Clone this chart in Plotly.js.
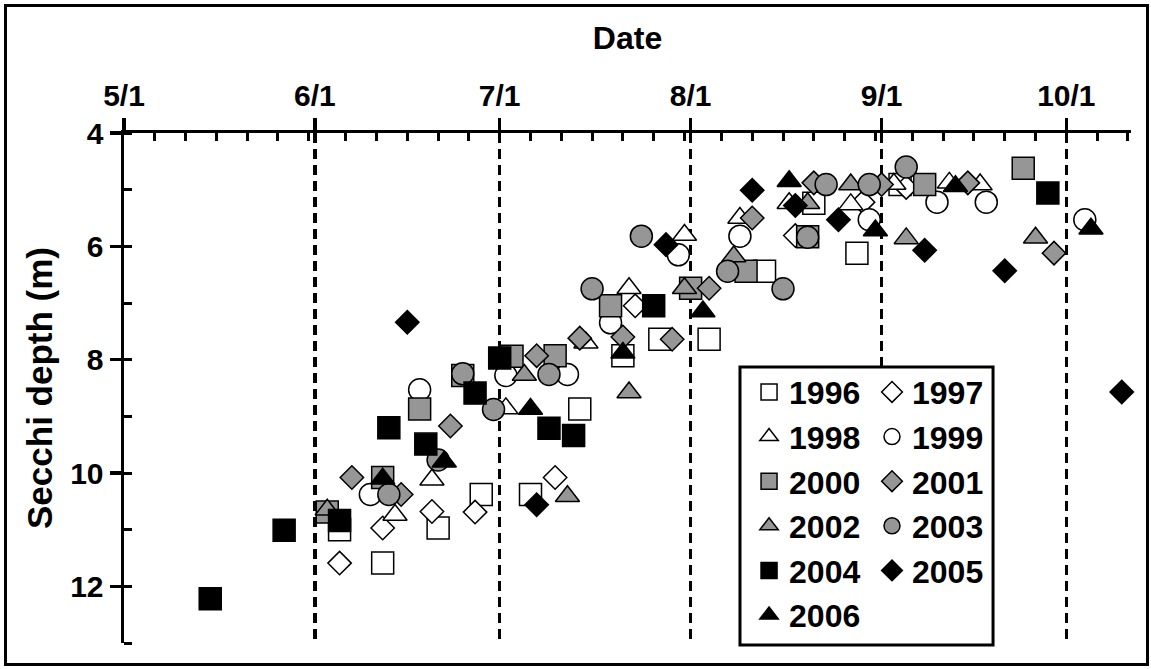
<!DOCTYPE html>
<html>
<head>
<meta charset="utf-8">
<script src="https://cdn.plot.ly/plotly-3.0.1.min.js"></script>
<style>
  html, body { margin:0; padding:0; background:#fff; }
  #wrap { position:relative; width:1151px; height:669px; }
  #chart { position:absolute; left:0; top:0; width:1151px; height:669px; }
  #frame { position:absolute; left:4px; top:4px; width:1145px; height:662px; box-sizing:border-box; border:3px solid #000; pointer-events:none; }
</style>
</head>
<body>
<div id="wrap"><div id="chart"></div><div id="frame"></div></div>
<script>
// ---- data (month/day, Secchi depth in m) ----
const years = ["1996","1997","1998","1999","2000","2001","2002","2003","2004","2005","2006"];

const d1996 = ["6/5","6/12","6/21","6/28","7/6","7/14","7/21","7/27","8/4","8/13","8/21","8/28","9/4"];
const v1996 = [11.0,11.59,10.97,10.38,10.38,8.87,7.93,7.64,7.64,6.44,5.24,6.12,4.91];

const d1997 = ["6/5","6/12","6/20","6/27","7/10","7/23","8/18","8/29","9/5"];
const v1997 = [11.59,10.97,10.68,10.69,10.08,7.05,5.81,5.22,4.96];

const d1998 = ["6/14","6/20","7/2","7/15","7/22","7/31","8/9","8/17","8/27","9/3","9/12","9/17"];
const v1998 = [10.74,10.12,8.86,7.7,6.74,5.8,5.5,5.24,5.26,4.9,4.88,4.91];

const d1999 = ["6/10","6/18","7/2","7/12","7/19","7/30","8/9","8/30","9/10","9/18","10/4"];
const v1999 = [10.38,8.53,8.28,8.26,7.35,6.15,5.82,5.53,5.22,5.22,5.53];

const d2000 = ["6/3","6/12","6/18","6/25","7/3","7/10","7/19","8/1","8/10","8/20","9/8","9/24"];
const v2000 = [10.69,10.08,8.87,8.28,7.94,7.93,7.05,6.74,6.44,5.83,4.91,4.62];

const d2001 = ["6/7","6/15","6/23","7/7","7/14","7/21","7/29","8/4","8/11","8/21","9/1","9/15","9/29"];
const v2001 = [10.08,10.38,9.17,7.93,7.62,7.6,7.64,6.74,5.5,4.88,4.91,4.88,6.12];

const d2002 = ["6/3","7/5","7/12","7/22","7/31","8/8","8/20","8/27","9/5","9/26"];
const v2002 = [10.65,8.27,10.41,8.58,6.74,6.18,5.24,4.91,5.86,5.85];

const d2003 = ["6/13","6/21","6/25","6/30","7/9","7/16","7/24","8/7","8/16","8/20","8/23","8/30","9/5"];
const v2003 = [10.38,9.77,8.25,8.88,8.26,6.75,5.82,6.44,6.75,5.84,4.91,4.91,4.6];

const d2004 = ["5/15","5/27","6/5","6/13","6/19","6/27","7/1","7/9","7/13","7/26","9/28"];
const v2004 = [12.22,11.01,10.84,9.2,9.49,8.59,7.97,9.21,9.34,7.05,5.06];

const d2005 = ["6/16","7/7","7/28","8/11","8/18","8/25","9/8","9/21","10/10"];
const v2005 = [7.34,10.56,5.97,5.01,5.28,5.53,6.07,6.43,8.57];

const d2006 = ["6/12","6/22","7/6","7/21","8/3","8/17","8/31","9/13","10/5"];
const v2006 = [10.1,9.8,8.87,7.88,7.15,4.85,5.72,4.94,5.69];

const majorTicks = ["5/1","6/1","7/1","8/1","9/1","10/1"];
const minorTicks = ["5/6","5/11","5/16","5/21","5/26","5/31","6/6","6/11","6/16","6/21","6/26",
  "7/6","7/11","7/16","7/21","7/26","7/31","8/6","8/11","8/16","8/21","8/26","8/31",
  "9/6","9/11","9/16","9/21","9/26","10/6","10/11"];
const xStart = "5/1";
const xEnd = "2001-10-11 12:00";
const yRange = [13, 4];

// ---- styles ----
const GRAY = "#969696";
const styleOf = {
  "1996": {symbol:"square", fill:"#ffffff", size:22},
  "1997": {symbol:"diamond", fill:"#ffffff", size:18},
  "1998": {symbol:"triangle-up", fill:"#ffffff", size:21},
  "1999": {symbol:"circle", fill:"#ffffff", size:22},
  "2000": {symbol:"square", fill:GRAY, size:22},
  "2001": {symbol:"diamond", fill:GRAY, size:18},
  "2002": {symbol:"triangle-up", fill:GRAY, size:21},
  "2003": {symbol:"circle", fill:GRAY, size:22},
  "2004": {symbol:"square", fill:"#000000", size:22},
  "2005": {symbol:"diamond", fill:"#000000", size:18},
  "2006": {symbol:"triangle-up", fill:"#000000", size:21}
};
const dataOf = {
  "1996":[d1996,v1996],"1997":[d1997,v1997],"1998":[d1998,v1998],"1999":[d1999,v1999],
  "2000":[d2000,v2000],"2001":[d2001,v2001],"2002":[d2002,v2002],"2003":[d2003,v2003],
  "2004":[d2004,v2004],"2005":[d2005,v2005],"2006":[d2006,v2006]
};

function toDate(md) {
  const p = md.split("/");
  const m = ("0" + p[0]).slice(-2), d = ("0" + p[1]).slice(-2);
  return "2001-" + m + "-" + d;
}

const FONT = "Liberation Sans, Arial, Helvetica, sans-serif";

const traces = years.map(function(y, i) {
  const s = styleOf[y];
  return {
    type: "scatter",
    mode: "markers",
    name: y,
    x: dataOf[y][0].map(toDate),
    y: dataOf[y][1],
    legend: (i % 2 === 0) ? "legend" : "legend2",
    marker: {symbol: s.symbol, size: s.size, color: s.fill, line: {color: "#000", width: 1.5}},
    cliponaxis: false,
    hoverinfo: "x+y+name"
  };
});

const legendBase = {
  xanchor: "left", yanchor: "top",
  bgcolor: "rgba(0,0,0,0)", borderwidth: 0,
  font: {family: FONT, size: 32, weight: "bold", color: "#000"},
  itemwidth: 30, tracegroupgap: 0, traceorder: "normal"
};

const layout = {
  width: 1151, height: 669,
  margin: {l: 124, r: 20, t: 133, b: 26, pad: 0},
  paper_bgcolor: "#fff", plot_bgcolor: "#fff",
  showlegend: true,
  font: {family: FONT, color: "#000"},
  xaxis: {
    type: "date", side: "top",
    range: [toDate(xStart), xEnd],
    tickmode: "array", tickvals: majorTicks.map(toDate), ticktext: majorTicks,
    ticks: "outside", ticklen: 12, tickwidth: 3.5, tickcolor: "#000",
    tickfont: {family: FONT, size: 30, weight: "bold", color: "#000"},
    showline: true, linecolor: "#000", linewidth: 3.5,
    showgrid: true, gridcolor: "#000", gridwidth: 3.5, griddash: "10px,6px",
    zeroline: false,
    minor: {tickmode: "array", tickvals: minorTicks.map(toDate), ticks: "inside", ticklen: 8, tickwidth: 3, tickcolor: "#000", showgrid: false},
    title: {text: "Date", font: {family: FONT, size: 32, weight: "bold", color: "#000"}, standoff: 20},
    fixedrange: true
  },
  yaxis: {
    range: yRange,
    tickmode: "linear", tick0: 4, dtick: 2,
    ticks: "outside", ticklen: 11, tickwidth: 3.5, tickcolor: "#000",
    tickfont: {family: FONT, size: 30, weight: "bold", color: "#000"},
    showline: true, linecolor: "#000", linewidth: 3.5,
    showgrid: false, zeroline: false,
    minor: {tickmode: "linear", tick0: 4, dtick: 1, ticks: "inside", ticklen: 8, tickwidth: 3, tickcolor: "#000", showgrid: false},
    title: {text: "Secchi depth (m)", font: {family: FONT, size: 35, weight: "bold", color: "#000"}, standoff: 8},
    fixedrange: true
  },
  legend: Object.assign({}, legendBase, {x: 0.6207, y: 0.5457}),
  legend2: Object.assign({}, legendBase, {x: 0.7428, y: 0.5457}),
  shapes: [{
    type: "rect", xref: "paper", yref: "paper",
    x0: 0.6117, x1: 0.863, y0: -0.004, y1: 0.541,
    fillcolor: "#fff", line: {color: "#000", width: 3}, layer: "above"
  }]
};

Plotly.newPlot("chart", traces, layout, {displayModeBar: false, staticPlot: true});
</script>
</body>
</html>
